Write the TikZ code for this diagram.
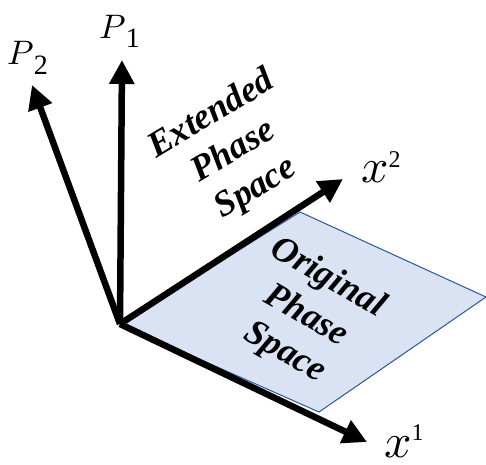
\documentclass[tikz,border=0pt]{standalone}
\usepackage{fontspec}
\setmainfont{Liberation Serif}
\usetikzlibrary{arrows.meta}
\definecolor{planefill}{HTML}{DAE3F3}
\definecolor{planeedge}{HTML}{2F5597}
\begin{document}
\begin{tikzpicture}[x=1pt,y=-1pt,
  axis/.style={line width=6.5pt, -{Triangle[length=24pt,width=24pt]}},
  plane/.style={fill=planefill, draw=planeedge, line width=1pt},
  region/.style={font=\fontsize{36}{43}\selectfont\bfseries\itshape, align=center, inner sep=0pt},
  lbl/.style={inner sep=0pt, anchor=base west}]
\useasboundingbox (0,0) rectangle (486,464);
\coordinate (O) at (120,324);
\coordinate (A) at (300,212);
\coordinate (B) at (486,297);
\coordinate (C) at (319,412);
\draw[plane] (O) -- (A) -- (B) -- (C) -- cycle;
\coordinate (t1) at (122,60);
\coordinate (t2) at (32,85);
\coordinate (tx2) at (343,179);
\coordinate (tx1) at (367,442);
\draw[axis] (O) -- (t1);
\draw[axis] (O) -- (t2);
\draw[axis] (O) -- (tx2);
\draw[axis] (O) -- (tx1);
\node[region, rotate=31] (ext) at (234,152) {Extended\\Phase\\Space};
\node[region, rotate=-30] (orig) at (306,316) {Original\\Phase\\Space};
\node[lbl] (p1) at (99,38) {\scalebox{3.4}{$P$}\raisebox{-9pt}{\fontsize{28}{28}\selectfont 1}};
\node[lbl] (p2) at (7,64) {\scalebox{3.4}{$P$}\raisebox{-10pt}{\fontsize{28}{28}\selectfont 2}};
\node[lbl] (x2) at (361,182) {\scalebox{4.8}{$x$}\raisebox{15pt}{\fontsize{24}{24}\selectfont 2}};
\node[lbl] (x1) at (384,457) {\scalebox{4.8}{$x$}\raisebox{17pt}{\fontsize{24}{24}\selectfont 1}};
\end{tikzpicture}
\end{document}
